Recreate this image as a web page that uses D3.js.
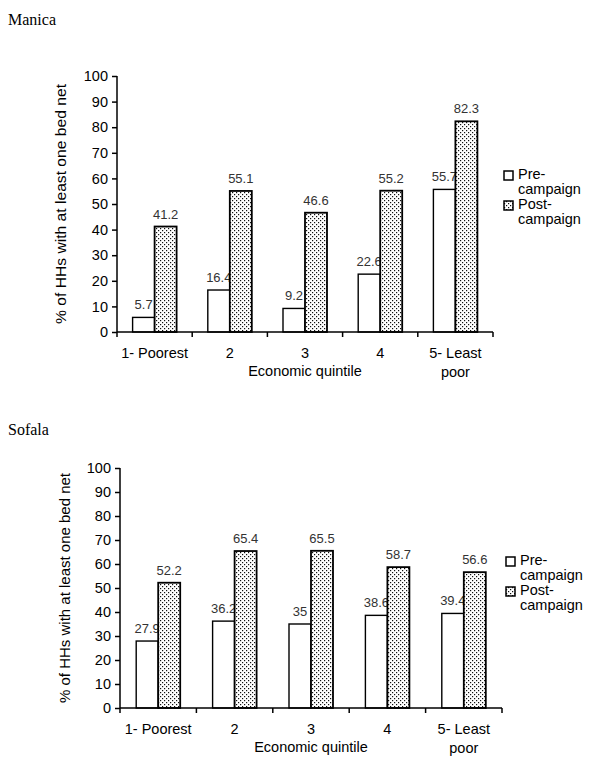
<!DOCTYPE html>
<html><head><meta charset="utf-8">
<script src="https://cdn.jsdelivr.net/npm/d3@7"></script>
<style>body{margin:0;background:#fff}svg{display:block}</style>
</head><body>
<svg id="c" width="600" height="770"></svg>
<script>
const categories = ["1- Poorest","2","3","4","5- Least poor"];
const manicaPre  = [5.7,16.4,9.2,22.6,55.7];
const manicaPost = [41.2,55.1,46.6,55.2,82.3];
const sofalaPre  = [27.9,36.2,35,38.6,39.4];
const sofalaPost = [52.2,65.4,65.5,58.7,56.6];
const yTicks = [0,10,20,30,40,50,60,70,80,90,100];
const seriesNames = ["Pre-campaign","Post-campaign"];

const svg = d3.select("#c");
const defs = svg.append("defs");
const pat = defs.append("pattern").attr("id","dots").attr("patternUnits","userSpaceOnUse")
  .attr("width",4).attr("height",4);
pat.append("rect").attr("width",4).attr("height",4).attr("fill","#fff");
pat.append("rect").attr("x",0).attr("y",0).attr("width",1.2).attr("height",1.2).attr("fill","#111");
pat.append("rect").attr("x",2).attr("y",2).attr("width",1.2).attr("height",1.2).attr("fill","#111");

const sans = "'Liberation Sans', Arial, sans-serif";

function drawChart(cfg){
  const g = svg.append("g");
  g.append("text").attr("x",8).attr("y",cfg.titleY).text(cfg.title)
    .attr("font-family","'Liberation Serif', 'Times New Roman', serif").attr("font-size",16);
  const x = d3.scaleBand().domain(categories).range([cfg.x0,cfg.x1]);
  const y = d3.scaleLinear().domain([0,100]).range([cfg.y0,cfg.y1]);
  const bw = 22;
  // y axis
  const ya = g.append("g").attr("transform",`translate(${cfg.x0},0)`)
    .call(d3.axisLeft(y).tickValues(yTicks).tickSize(5).tickPadding(4).tickFormat(d3.format("d")));
  ya.select(".domain").attr("stroke","#000").attr("stroke-width",1.5).attr("d",`M0,${cfg.y1}V${cfg.y0}`);
  ya.selectAll(".tick line").attr("stroke","#000").attr("stroke-width",1.5);
  ya.selectAll(".tick text").attr("font-family",sans).attr("font-size",14.5).attr("fill","#000");
  // y axis title
  g.append("text").attr("transform",`translate(${cfg.titleX},${(cfg.y0+cfg.y1)/2}) rotate(-90)`)
    .attr("text-anchor","middle").attr("font-family",sans).attr("font-size",15)
    .attr("textLength",cfg.titleLen).attr("lengthAdjust","spacingAndGlyphs")
    .text("% of HHs with at least one bed net");
  // bars
  const pre = g.append("g"), preL = g.append("g"), post = g.append("g"), postL = g.append("g");
  categories.forEach((c,i)=>{
    const cx = x(c) + x.bandwidth()/2;
    pre.append("rect").attr("x",cx-bw).attr("y",y(cfg.pre[i])).attr("width",bw)
      .attr("height",y(0)-y(cfg.pre[i])).attr("fill","#fff").attr("stroke","#000").attr("stroke-width",1.4);
    preL.append("text").attr("x",cx-bw/2).attr("y",y(cfg.pre[i])-8).attr("text-anchor","middle")
      .attr("font-family",sans).attr("font-size",13).attr("fill","#333").text(cfg.pre[i]);
    post.append("rect").attr("x",cx).attr("y",y(cfg.post[i])).attr("width",bw)
      .attr("height",y(0)-y(cfg.post[i])).attr("fill","url(#dots)").attr("stroke","#000").attr("stroke-width",1.8);
    postL.append("text").attr("x",cx+bw/2).attr("y",y(cfg.post[i])-8).attr("text-anchor","middle")
      .attr("font-family",sans).attr("font-size",13).attr("fill","#333").text(cfg.post[i]);
  });
  // x axis
  const xa = g.append("g").attr("transform",`translate(0,${cfg.y0})`);
  xa.append("line").attr("x1",cfg.x0).attr("x2",cfg.x1).attr("stroke","#000").attr("stroke-width",1.5);
  const bounds = categories.map(c=>x(c)).concat([cfg.x1]);
  bounds.forEach(b=>xa.append("line").attr("x1",b).attr("x2",b).attr("y1",0).attr("y2",5)
    .attr("stroke","#000").attr("stroke-width",1.5));
  categories.forEach(c=>{
    const cx = x(c)+x.bandwidth()/2;
    const parts = c === "5- Least poor" ? ["5- Least","poor"] : [c];
    parts.forEach((p,k)=>xa.append("text").attr("x",cx).attr("y",26+k*19).attr("text-anchor","middle")
      .attr("font-family",sans).attr("font-size",14.5).text(p));
  });
  xa.append("text").attr("x",(cfg.x0+cfg.x1)/2).attr("y",44).attr("text-anchor","middle")
    .attr("font-family",sans).attr("font-size",14.5).text("Economic quintile");
  // legend
  const lg = g.append("g").attr("transform",`translate(${cfg.legX},${cfg.legY})`);
  const fills = ["#fff","url(#dots)"];
  seriesNames.forEach((s,i)=>{
    const yy = i*30;
    lg.append("rect").attr("x",0).attr("y",yy-8).attr("width",9).attr("height",9)
      .attr("fill",fills[i]).attr("stroke","#000").attr("stroke-width",1.5);
    const [a,b] = s.split("-");
    lg.append("text").attr("x",14).attr("y",yy).attr("font-family",sans).attr("font-size",14.5).text(a+"-");
    lg.append("text").attr("x",14).attr("y",yy+15).attr("font-family",sans).attr("font-size",14.5).text(b);
  });
}

drawChart({title:"Manica",titleY:25,pre:manicaPre,post:manicaPost,x0:117,x1:493,y0:332,y1:76,legX:504,legY:179,titleX:66,titleLen:240});
drawChart({title:"Sofala",titleY:435,pre:sofalaPre,post:sofalaPost,x0:120,x1:502,y0:708,y1:468,legX:506,legY:565,titleX:70,titleLen:230});
</script>
</body></html>
